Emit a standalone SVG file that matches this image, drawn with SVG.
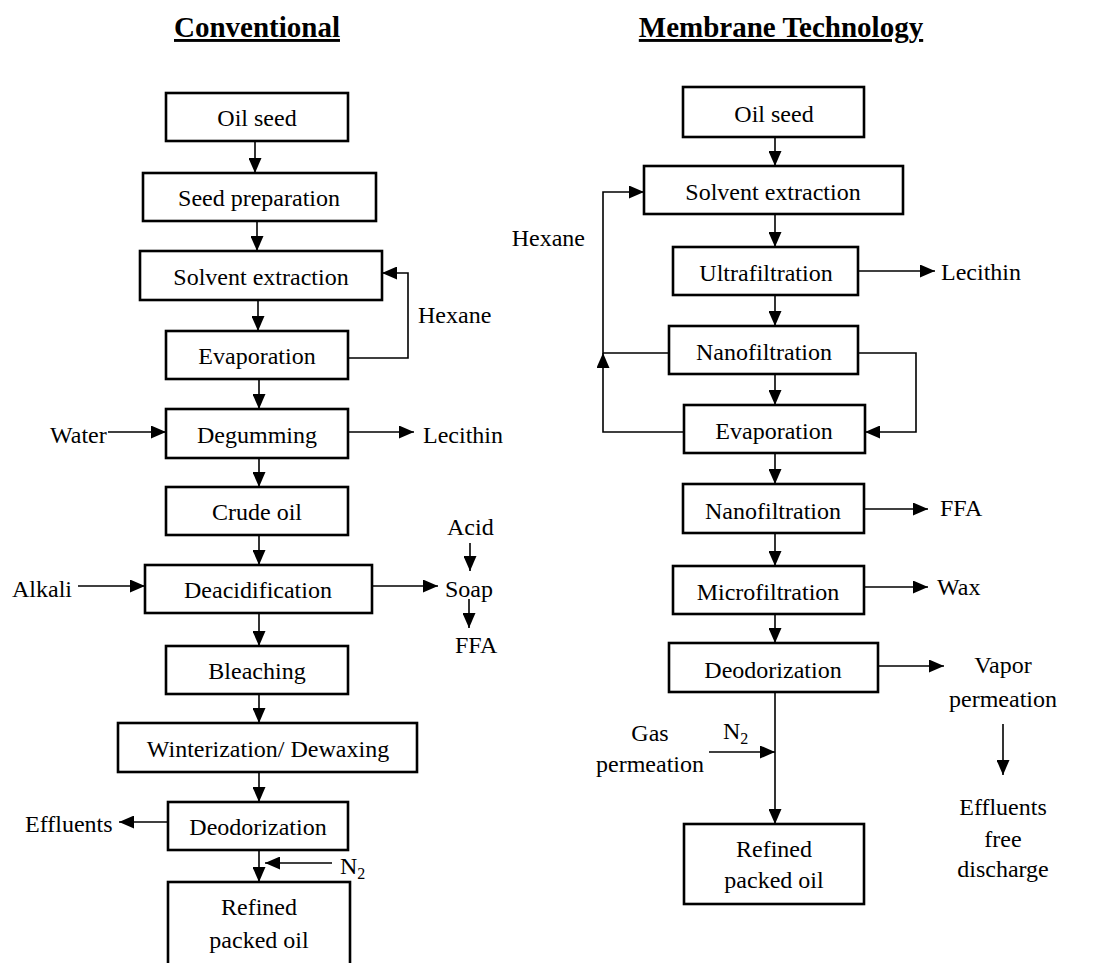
<svg xmlns="http://www.w3.org/2000/svg" width="1094" height="963" viewBox="0 0 1094 963">
<style>
text{font-family:"Liberation Serif","Times New Roman",serif;font-size:24px;fill:#000}
.t{text-anchor:middle}
.title{font-size:29px;font-weight:bold;text-decoration:underline;text-anchor:middle}
.box{fill:#fff;stroke:#000;stroke-width:2.6}
.c{fill:none;stroke:#000;stroke-width:1.6;marker-end:url(#ah)}
.l{fill:none;stroke:#222;stroke-width:1.6}
</style>
<defs>
<marker id="ah" viewBox="0 0 15 13" refX="15" refY="6.5" markerWidth="15" markerHeight="13" markerUnits="userSpaceOnUse" orient="auto">
<path d="M0,0 L15,6.5 L0,13 z" fill="#000"/>
</marker>
</defs>
<rect width="1094" height="963" fill="#fff"/>
<text class="title" x="257" y="37">Conventional</text>
<text class="title" x="781" y="37">Membrane Technology</text>

<g id="connectors">
<path class="c" d="M255,141 V173"/>
<path class="c" d="M257,221 V251"/>
<path class="c" d="M258,300 V331"/>
<path class="c" d="M259,379 V409"/>
<path class="c" d="M259,458 V487"/>
<path class="c" d="M259,535 V565"/>
<path class="c" d="M259,613 V646"/>
<path class="c" d="M259,694 V723"/>
<path class="c" d="M259,772 V802"/>
<path class="c" d="M259,850 V882"/>
<path class="c" d="M348,358 H408 V273 H382"/>
<path class="c" d="M108,432 H166"/>
<path class="c" d="M348,432 H414"/>
<path class="c" d="M78,586 H145"/>
<path class="c" d="M372,586 H438"/>
<path class="c" d="M470,543 V571"/>
<path class="c" d="M469,599 V628"/>
<path class="c" d="M168,822 H119"/>
<path class="c" d="M332,863 H265"/>

<path class="c" d="M775,137 V166"/>
<path class="c" d="M775,214 V247"/>
<path class="c" d="M775,295 V326"/>
<path class="c" d="M775,374 V405"/>
<path class="c" d="M775,453 V484"/>
<path class="c" d="M775,533 V566"/>
<path class="c" d="M775,614 V643"/>
<path class="c" d="M775,692 V824"/>
<path class="c" d="M858,271 H935"/>
<path class="c" d="M669,353 H603 V192 H644"/>
<path class="c" d="M684,432 H603 V353"/>
<path class="c" d="M858,353 H916 V432 H865"/>
<path class="c" d="M864,509 H928"/>
<path class="c" d="M864,587 H928"/>
<path class="c" d="M878,666 H944"/>
<path class="c" d="M709,752 H775"/>
<path class="c" d="M1003,724 V775"/>
</g>

<g id="c-oilseed"><rect class="box" x="166" y="93" width="182" height="48"/><text class="t" x="257" y="126">Oil seed</text></g>
<g id="c-seedprep"><rect class="box" x="143" y="173" width="233" height="48"/><text class="t" x="259" y="206">Seed preparation</text></g>
<g id="c-solvent"><rect class="box" x="140" y="251" width="242" height="49"/><text class="t" x="261" y="285">Solvent extraction</text></g>
<g id="c-evap"><rect class="box" x="166" y="331" width="182" height="48"/><text class="t" x="257" y="364">Evaporation</text></g>
<g id="c-degum"><rect class="box" x="166" y="409" width="182" height="49"/><text class="t" x="257" y="443">Degumming</text></g>
<g id="c-crude"><rect class="box" x="166" y="487" width="182" height="48"/><text class="t" x="257" y="520">Crude oil</text></g>
<g id="c-deacid"><rect class="box" x="145" y="565" width="227" height="48"/><text class="t" x="258" y="598">Deacidification</text></g>
<g id="c-bleach"><rect class="box" x="166" y="646" width="182" height="48"/><text class="t" x="257" y="679">Bleaching</text></g>
<g id="c-winter"><rect class="box" x="118" y="723" width="299" height="49"/><text class="t" x="268" y="757">Winterization/ Dewaxing</text></g>
<g id="c-deodor"><rect class="box" x="168" y="802" width="180" height="48"/><text class="t" x="258" y="835">Deodorization</text></g>
<g id="c-refined"><rect class="box" x="168" y="882" width="182" height="100"/><text class="t" x="259" y="915">Refined</text><text class="t" x="259" y="948">packed oil</text></g>

<g id="c-labels">
<text x="418" y="323">Hexane</text>
<text x="50" y="443">Water</text>
<text x="423" y="443">Lecithin</text>
<text x="12" y="597">Alkali</text>
<text x="445" y="597">Soap</text>
<text x="447" y="535">Acid</text>
<text x="455" y="653">FFA</text>
<text x="25" y="832">Effluents</text>
<text x="340" y="874">N<tspan font-size="16" dy="5">2</tspan></text>
</g>

<g id="m-oilseed"><rect class="box" x="683" y="87" width="181" height="50"/><text class="t" x="774" y="122">Oil seed</text></g>
<g id="m-solvent"><rect class="box" x="644" y="166" width="259" height="48"/><text class="t" x="773" y="200">Solvent extraction</text></g>
<g id="m-ultra"><rect class="box" x="673" y="247" width="185" height="48"/><text class="t" x="766" y="281">Ultrafiltration</text></g>
<g id="m-nano1"><rect class="box" x="669" y="326" width="189" height="48"/><text class="t" x="764" y="360">Nanofiltration</text></g>
<g id="m-evap"><rect class="box" x="684" y="405" width="181" height="48"/><text class="t" x="774" y="439">Evaporation</text></g>
<g id="m-nano2"><rect class="box" x="683" y="484" width="181" height="49"/><text class="t" x="773" y="519">Nanofiltration</text></g>
<g id="m-micro"><rect class="box" x="673" y="566" width="191" height="48"/><text class="t" x="768" y="600">Microfiltration</text></g>
<g id="m-deodor"><rect class="box" x="669" y="643" width="209" height="49"/><text class="t" x="773" y="678">Deodorization</text></g>
<g id="m-refined"><rect class="box" x="684" y="824" width="180" height="80"/><text class="t" x="774" y="857">Refined</text><text class="t" x="774" y="888">packed oil</text></g>

<g id="m-labels">
<text x="585" y="246" text-anchor="end">Hexane</text>
<text x="941" y="280">Lecithin</text>
<text x="940" y="516">FFA</text>
<text x="937" y="595">Wax</text>
<text class="t" x="1003" y="673">Vapor</text>
<text class="t" x="1003" y="707">permeation</text>
<text class="t" x="650" y="741">Gas</text>
<text class="t" x="650" y="772">permeation</text>
<text x="723" y="739">N<tspan font-size="16" dy="5">2</tspan></text>
<text class="t" x="1003" y="815">Effluents</text>
<text class="t" x="1003" y="847">free</text>
<text class="t" x="1003" y="877">discharge</text>
</g>
</svg>
